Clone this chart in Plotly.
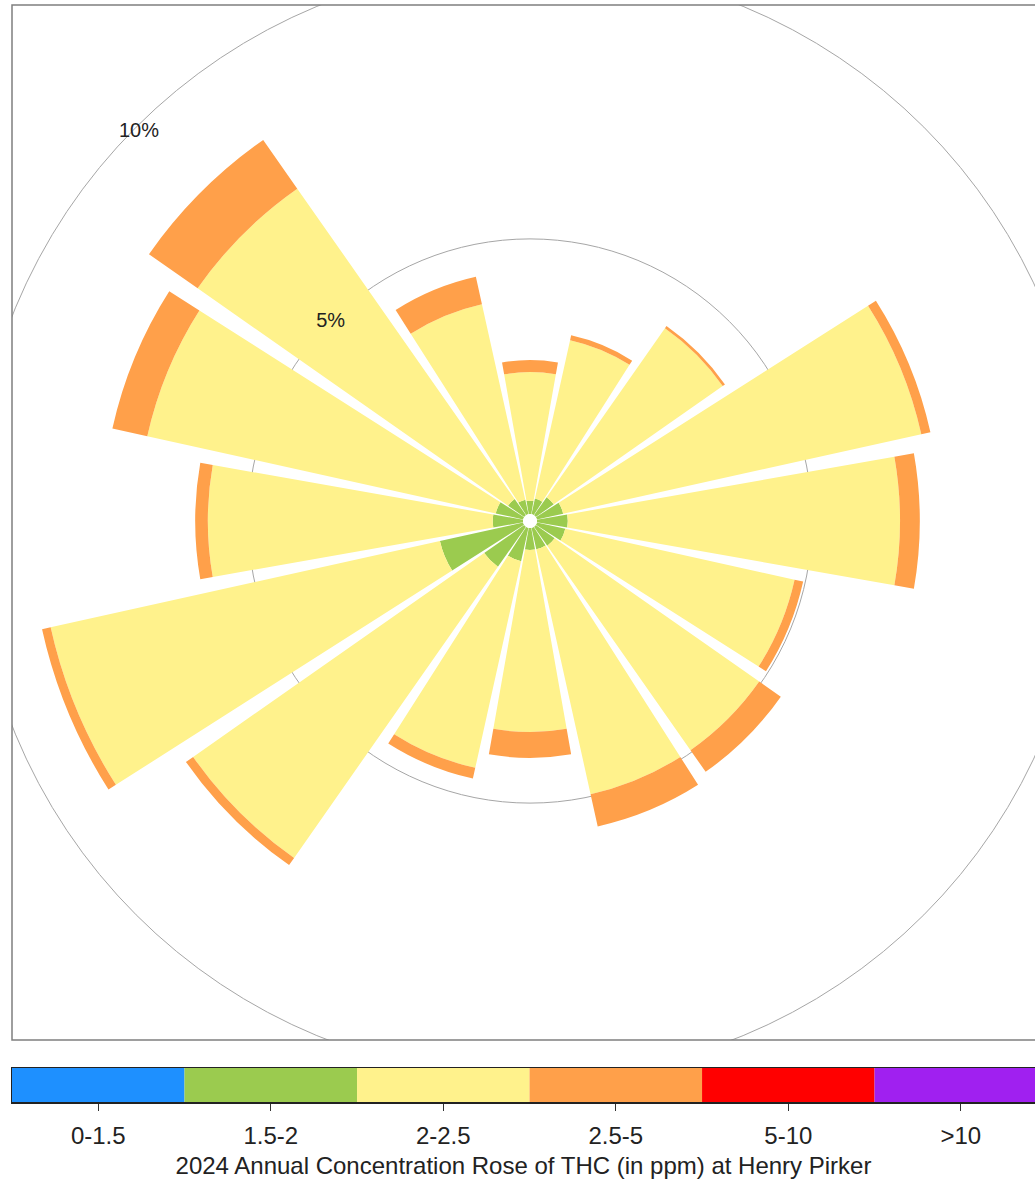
import math
import plotly.graph_objects as go

# ---------------- data ----------------
DIRECTIONS = ["N", "NNE", "NE", "ENE", "E", "ESE", "SE", "SSE",
              "S", "SSW", "SW", "WSW", "W", "WNW", "NW", "NNW"]
DIR_DEG = [0, 22.5, 45, 67.5, 90, 112.5, 135, 157.5,
           180, 202.5, 225, 247.5, 270, 292.5, 315, 337.5]

# frequency (%) of each concentration band per wind direction
BAND_LABELS = ["0-1.5", "1.5-2", "2-2.5", "2.5-5", "5-10", ">10"]
BAND_COLORS = ["#1E90FF", "#9BCB4F", "#FFF28C", "#FFA04A", "#FF0000", "#A020F0"]

f_0_1p5 = [0] * 16
f_1p5_2 = [0.24, 0.29, 0.40, 0.49, 0.56, 0.53, 0.42, 0.40,
           0.40, 0.62, 0.89, 1.55, 0.55, 0.51, 0.36, 0.27]
f_2_2p5 = [2.34, 2.95, 3.75, 6.67, 6.04, 4.27, 4.54, 4.56,
           3.31, 3.85, 6.46, 7.25, 5.18, 6.49, 6.89, 3.64]
f_2p5_5 = [0.22, 0.09, 0.05, 0.17, 0.36, 0.16, 0.48, 0.60,
           0.47, 0.20, 0.16, 0.16, 0.23, 0.65, 1.08, 0.51]
f_5_10 = [0] * 16
f_gt10 = [0] * 16
BANDS = [f_0_1p5, f_1p5_2, f_2_2p5, f_2p5_5, f_5_10, f_gt10]

RADIAL_TICKS = [5, 10]
RADIAL_TICK_TEXT = ["5%", "10%"]
LABEL_ANGLE = 315
TITLE = "2024 Annual Concentration Rose of THC (in ppm) at Henry Pirker"

# ---------------- layout geometry (pixels) ----------------
W, H = 1035, 1182
CX, CY = 530, 521          # polar centre
R = 505                    # polar radius in px
HOLE_PX = 7
PX_PER_PCT = 55.0
RMAX = (R - HOLE_PX) / PX_PER_PCT
FRAME = dict(x0=12, x1=1045, y0=5, y1=1040)
BAR_Y = (1068, 1102)
FONT = "Liberation Sans, Arial, sans-serif"
GRID = "#A6A6A6"
TXT = "#222222"

fig = go.Figure()

for lab, col, vals in zip(BAND_LABELS, BAND_COLORS, BANDS):
    fig.add_trace(go.Barpolar(
        r=vals, theta=DIR_DEG, width=20, name=lab,
        marker=dict(color=col, line=dict(width=0)),
        showlegend=False, hoverinfo="skip"))

# 5% label inside the radial range
fig.add_trace(go.Scatterpolar(
    r=[RADIAL_TICKS[0]], theta=[LABEL_ANGLE],
    text=[RADIAL_TICK_TEXT[0]], mode="text", cliponaxis=False,
    textfont=dict(family=FONT, size=20, color=TXT),
    showlegend=False, hoverinfo="skip"))

# empty trace to create the frame subplot (used to clip the 10% ring)
fig.add_trace(go.Scatter(x=[], y=[], xaxis="x", yaxis="y",
                         showlegend=False, hoverinfo="skip"))

# colour key
fig.add_trace(go.Bar(
    x=list(range(len(BAND_LABELS))), y=[1] * len(BAND_LABELS), width=1,
    marker=dict(color=BAND_COLORS, line=dict(width=0)),
    xaxis="x2", yaxis="y2", showlegend=False, hoverinfo="skip"))

pd_ = dict(
    x=[(CX - R) / W, (CX + R) / W],
    y=[(H - CY - R) / H, (H - CY + R) / H])

fig.update_layout(
    width=W, height=H,
    margin=dict(l=0, r=0, t=0, b=0),
    paper_bgcolor="white", plot_bgcolor="rgba(0,0,0,0)",
    font=dict(family=FONT, color=TXT),
    polar=dict(
        domain=pd_,
        hole=HOLE_PX / R,
        bgcolor="rgba(0,0,0,0)",
        barmode="stack",
        angularaxis=dict(rotation=90, direction="clockwise",
                         showgrid=False, showline=False, ticks="",
                         showticklabels=False, layer="below traces"),
        radialaxis=dict(range=[0, RMAX], tickvals=[RADIAL_TICKS[0]],
                        showticklabels=False, showline=False, ticks="",
                        gridcolor=GRID, gridwidth=1,
                        layer="below traces"),
    ),
    xaxis=dict(domain=[FRAME["x0"] / W, 1], range=[FRAME["x0"], W],
               visible=False, fixedrange=True),
    yaxis=dict(domain=[(H - FRAME["y1"]) / H, (H - FRAME["y0"]) / H],
               range=[FRAME["y1"], FRAME["y0"]], visible=False, fixedrange=True),
    xaxis2=dict(domain=[FRAME["x0"] / W, 1], range=[-0.5, 5.43],
                anchor="y2",
                tickvals=list(range(len(BAND_LABELS))), ticktext=BAND_LABELS,
                ticks="outside", ticklen=7, tickcolor="#333333",
                ticklabelstandoff=5,
                tickfont=dict(size=24, family=FONT, color=TXT),
                showline=True, mirror=True, linecolor="#222222", linewidth=1.5,
                showgrid=False, zeroline=False, fixedrange=True,
                title=dict(text=TITLE, standoff=9,
                           font=dict(size=24, family=FONT, color=TXT))),
    yaxis2=dict(domain=[(H - BAR_Y[1]) / H, (H - BAR_Y[0]) / H], range=[0, 1],
                anchor="x2", showticklabels=False, ticks="",
                showline=True, mirror=False, linecolor="#222222", linewidth=1.5,
                showgrid=False, zeroline=False, fixedrange=True),
)

# 10% ring and label lie outside the polar range: place them in frame pixels
r10 = HOLE_PX + RADIAL_TICKS[1] * PX_PER_PCT
fig.add_shape(type="circle", xref="x", yref="y",
              x0=CX - r10, x1=CX + r10, y0=CY - r10, y1=CY + r10,
              line=dict(color=GRID, width=1), layer="below")
ang = math.radians(LABEL_ANGLE)
fig.add_annotation(xref="x", yref="y",
                   x=CX + (r10 - 4) * math.sin(ang),
                   y=CY - (r10 - 4) * math.cos(ang),
                   text=RADIAL_TICK_TEXT[1], showarrow=False,
                   font=dict(family=FONT, size=20, color=TXT))
fig.add_shape(type="rect", xref="paper", yref="paper",
              x0=FRAME["x0"] / W, x1=FRAME["x1"] / W,
              y0=(H - FRAME["y1"]) / H, y1=(H - FRAME["y0"]) / H,
              line=dict(color="#7F7F7F", width=1.5))

fig.write_html("out.html",
               config={"displayModeBar": False, "staticPlot": True},
               post_script="document.body.style.margin='0';"
                           "document.body.style.overflow='hidden';")
